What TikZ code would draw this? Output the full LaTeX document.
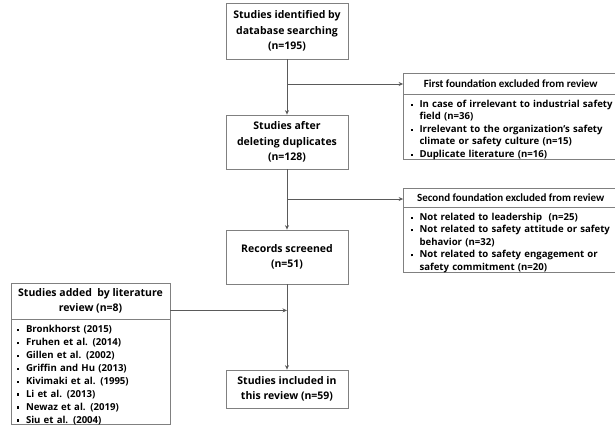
\documentclass[tikz,border=0pt]{standalone}
\usepackage{fontspec}
\setmainfont{Open Sans}
\newfontfamily\hdrfont{Carlito}
\usetikzlibrary{arrows.meta,calc}
\definecolor{bordc}{RGB}{128,128,128}
\definecolor{connc}{RGB}{90,90,90}
\newcommand{\sqbul}{\makebox[9pt][l]{\rule[0.28ex]{2.3pt}{2.3pt}}}
\newcommand{\bitem}{\par\noindent\sqbul}
\newcommand{\bcont}{\par\noindent\hspace*{9pt}}
\tikzset{
  box/.style={draw=bordc, line width=0.8pt, align=center, inner sep=0pt,
    font=\bfseries\fontsize{10.5}{15.5}\selectfont},
  hdr/.style={draw=bordc, line width=0.8pt, align=center, inner sep=0pt},
  body/.style={draw=bordc, line width=0.8pt, align=left, inner ysep=0pt,
    font=\bfseries\fontsize{9.6}{12.5}\selectfont},
  conn/.style={draw=connc, line width=0.8pt},
  arr/.style={conn, -{Stealth[length=4.5pt,width=4pt]}},
}
\begin{document}
\begin{tikzpicture}[x=1pt,y=-1pt]
\useasboundingbox (0,0) rectangle (615,424);
\clip (0,0) rectangle (615,424);
% main column
\node[box, minimum width=122pt, minimum height=56pt] (a) at (287,31)
  {Studies identified by\\database searching\\(n=195)};
\node[box, minimum width=122pt, minimum height=54pt] (b) at (287,142)
  {Studies after\\deleting duplicates\\(n=128)};
\node[box, minimum width=122pt, minimum height=54pt] (c) at (287,257)
  {Records screened\\(n=51)};
\node[box, minimum width=122pt, minimum height=38pt, font=\bfseries\fontsize{10.5}{14.5}\selectfont] (d) at (287,389)
  {Studies included in\\this review (n=59)};
% first exclusion box
\node[hdr, minimum width=214.5pt, minimum height=21pt,
  font=\hdrfont\bfseries\fontsize{11}{12}\selectfont] (e1h) at (510.75,83.5)
  {First foundation excluded from review};
\node[body, anchor=north west, minimum height=63pt, text width=215pt, inner xsep=7pt] (e1b) at (e1h.south west)
  {\bitem \mbox{In case of irrelevant to industrial safety}
   \bcont field (n=36)
   \bitem \mbox{Irrelevant to the organization's safety}
   \bcont climate or safety culture (n=15)
   \bitem Duplicate literature (n=16)};
% second exclusion box
\node[hdr, minimum width=214.5pt, minimum height=19pt,
  font=\hdrfont\bfseries\fontsize{11}{12}\selectfont] (e2h) at (510.75,197.5)
  {Second foundation excluded from review};
\node[body, anchor=north west, minimum height=60pt, text width=215pt, inner xsep=7pt] (e2b) at (e2h.south west)
  {\bitem Not related to leadership~~(n=25)
   \bitem \mbox{Not related to safety attitude or safety}
   \bcont behavior (n=32)
   \bitem \mbox{Not related to safety engagement or}
   \bcont safety commitment (n=20)};
% left box
\node[hdr, minimum width=159pt, minimum height=36pt,
  font=\bfseries\fontsize{10.5}{15.5}\selectfont] (lh) at (90.5,301)
  {Studies added~~by literature\\review (n=8)};
\node[body, anchor=north, minimum height=104.5pt, text width=147pt, inner xsep=6pt,
  font=\bfseries\fontsize{9.6}{12.9}\selectfont] (lb) at (lh.south)
  {\bitem Bronkhorst (2015)
   \bitem Fruhen et al. (2014)
   \bitem Gillen et al. (2002)
   \bitem Griffin and Hu (2013)
   \bitem Kivimaki et al. (1995)
   \bitem Li et al. (2013)
   \bitem Newaz et al. (2019)
   \bitem Siu et al. (2004)};
% connectors
\coordinate (j1) at (287,84);
\coordinate (j2) at (287,199);
\coordinate (ls) at ([yshift=9pt]lh.south east);
\draw[arr] (a.south) -- (b.north);
\draw[arr] (b.south) -- (c.north);
\draw[arr] (c.south) -- (d.north);
\draw[arr] (j1) -- (j1 -| e1h.west);
\draw[arr] (j2) -- (j2 -| e2h.west);
\draw[arr] (ls) -- (ls -| c.south);
\end{tikzpicture}
\end{document}
